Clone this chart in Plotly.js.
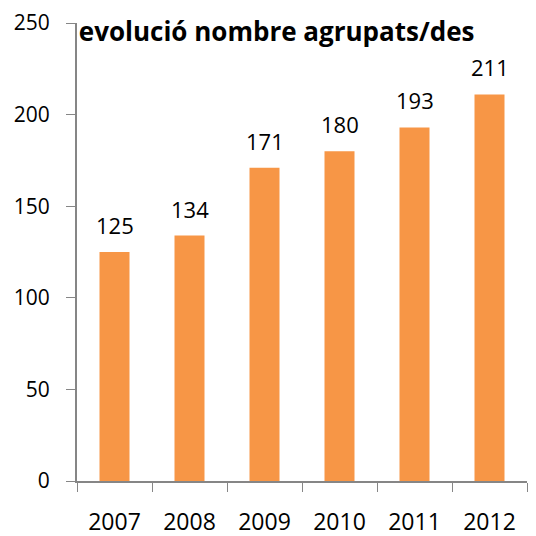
<!DOCTYPE html>
<html>
<head>
<meta charset="utf-8">
<script src="https://cdn.plot.ly/plotly-3.0.1.min.js"></script>
<style>html,body{margin:0;padding:0;background:#fff;}#chart{width:536px;height:536px;}</style>
</head>
<body>
<div id="chart"></div>
<script>
const categories = ['2007', '2008', '2009', '2010', '2011', '2012'];
const values = [125, 134, 171, 180, 193, 211];
const yTicks = [0, 50, 100, 150, 200, 250];
const titleText = 'evolució nombre agrupats/des';

const FONT = 'Open Sans, sans-serif';
const AXIS = '#868686';

const trace = {
  type: 'bar',
  x: categories,
  y: values,
  marker: {color: '#F79646', line: {width: 0}},
  width: 0.4,
  hoverinfo: 'none'
};

const annotations = categories.map((c, i) => ({
  x: i, y: values[i], xref: 'x', yref: 'y',
  text: String(values[i]),
  showarrow: false,
  yanchor: 'bottom',
  yshift: 10,
  font: {family: FONT, size: 22, color: '#000'}
}));

const layout = {
  width: 536, height: 536,
  margin: {l: 77, r: 9, t: 23, b: 55, pad: 0},
  paper_bgcolor: '#fff', plot_bgcolor: '#fff',
  showlegend: false,
  title: {
    text: '<b>' + titleText + '</b>',
    xref: 'paper', yref: 'paper', x: 0.004, xanchor: 'left', y: 1, yanchor: 'top',
    pad: {l: 0, t: 0},
    font: {family: FONT, size: 26, color: '#000'}
  },
  xaxis: {
    type: 'category',
    range: [-0.5, 5.5],
    showline: true, linecolor: AXIS, linewidth: 2,
    ticks: 'outside', tickson: 'boundaries', ticklen: 9, tickcolor: AXIS, tickwidth: 1,
    showgrid: false, zeroline: false,
    tickfont: {family: FONT, size: 23, color: '#000'},
    ticklabelstandoff: 19
  },
  yaxis: {
    range: [0, 250],
    tickvals: yTicks,
    ticktext: yTicks.map(String),
    showline: true, linecolor: AXIS, linewidth: 2,
    ticks: 'outside', ticklen: 9, tickcolor: AXIS, tickwidth: 1,
    showgrid: false, zeroline: false,
    tickfont: {family: FONT, size: 21, color: '#000'},
    ticklabelstandoff: 12
  },
  annotations: annotations
};

Plotly.newPlot('chart', [trace], layout, {staticPlot: true, displayModeBar: false});
</script>
</body>
</html>
